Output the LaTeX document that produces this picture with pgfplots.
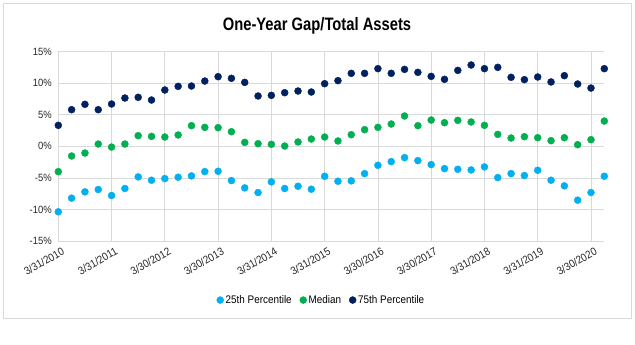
\documentclass[border=0pt]{standalone}
\usepackage{pgfplots}
\usepackage{pgfplotstable}
\pgfplotsset{compat=1.18}
\usepackage{fontspec}
\setmainfont{Liberation Sans}[FakeStretch=0.9]
\newfontfamily\titlefont{Liberation Sans}[FakeStretch=0.82]
\definecolor{c25}{RGB}{0,176,240}
\definecolor{cmed}{RGB}{0,176,80}
\definecolor{c75}{RGB}{0,32,96}
\definecolor{gridc}{RGB}{217,217,217}

\pgfplotstableread{
x p25 med p75
0 -10.37 -4.01 3.33
1 -8.21 -1.53 5.81
2 -7.21 -1.06 6.66
3 -6.84 0.37 5.81
4 -7.79 -0.11 6.71
5 -6.68 0.37 7.66
6 -4.84 1.69 7.77
7 -5.37 1.58 7.34
8 -5.11 1.48 8.93
9 -4.89 1.80 9.51
10 -4.68 3.28 9.56
11 -4.00 3.01 10.35
12 -3.95 2.96 11.04
13 -5.42 2.32 10.78
14 -6.58 0.63 10.14
15 -7.32 0.42 7.98
16 -5.63 0.32 8.08
17 -6.68 0.05 8.50
18 -6.32 0.69 8.77
19 -6.79 1.16 8.61
20 -4.74 1.48 9.93
21 -5.53 0.85 10.41
22 -5.47 1.85 11.57
23 -4.32 2.64 11.57
24 -3.00 3.01 12.31
25 -2.42 3.54 11.57
26 -1.79 4.81 12.20
27 -2.26 3.28 11.73
28 -2.89 4.17 11.09
29 -3.53 3.75 10.62
30 -3.63 4.12 12.04
31 -3.74 3.86 12.89
32 -3.26 3.33 12.31
33 -4.95 1.90 12.52
34 -4.32 1.32 10.94
35 -4.63 1.53 10.57
36 -3.79 1.37 10.99
37 -5.37 0.90 10.20
38 -6.26 1.37 11.20
39 -8.53 0.26 9.88
40 -7.32 1.06 9.24
41 -4.74 4.01 12.31
}\gapdata

\begin{document}
\begin{tikzpicture}
\useasboundingbox (0bp,0bp) rectangle (635bp,345bp);
\draw[gridc, line width=0.75bp] (3.3bp,27bp) rectangle (631.5bp,342bp);
\node[font=\titlefont\bfseries\fontsize{18bp}{20bp}\selectfont] at (317bp,319bp) {One-Year Gap/Total Assets};
\begin{axis}[
  at={(58.3bp,104bp)}, anchor=south west,
  scale only axis, width=546bp, height=189.3bp,
  xmin=0, xmax=41, ymin=-15, ymax=15,
  axis lines*=left,
  axis line style={gridc, line width=0.75bp},
  grid=major,
  major grid style={gridc, line width=0.75bp},
  major tick length=0pt,
  ytick={-15,-10,...,15},
  xtick={0,4,...,40},
  xticklabels={3/31/2010,3/31/2011,3/30/2012,3/30/2013,3/31/2014,3/31/2015,3/30/2016,3/30/2017,3/31/2018,3/31/2019,3/30/2020},
  /pgf/number format/assume math mode=true,
  yticklabel={\pgfmathprintnumber{\tick}\%},
  tick label style={font=\fontsize{10.5bp}{12bp}\selectfont, text=black!85},
  yticklabel style={xshift=-3bp},
  xticklabel style={rotate=30, anchor=north east, xshift=3bp, yshift=-3bp, font=\fontsize{11bp}{12bp}\selectfont},
  legend style={at={(0.482,-0.312)}, anchor=center, draw=none, legend columns=-1,
    font=\fontsize{11bp}{12bp}\selectfont,
    /tikz/every even column/.append style={column sep=6bp}},
  legend image code/.code={\draw[#1] plot coordinates {(0bp,0bp)};},
  clip=false,
]
\addplot[only marks, mark=*, mark size=3.5bp, c25, mark options={draw=c25, fill=c25}] table[x=x, y=p25] {\gapdata};
\addlegendentry{25th Percentile}
\addplot[only marks, mark=*, mark size=3.5bp, cmed, mark options={draw=cmed, fill=cmed}] table[x=x, y=med] {\gapdata};
\addlegendentry{Median}
\addplot[only marks, mark=*, mark size=3.5bp, c75, mark options={draw=c75, fill=c75}] table[x=x, y=p75] {\gapdata};
\addlegendentry{75th Percentile}
\end{axis}
\end{tikzpicture}
\end{document}
